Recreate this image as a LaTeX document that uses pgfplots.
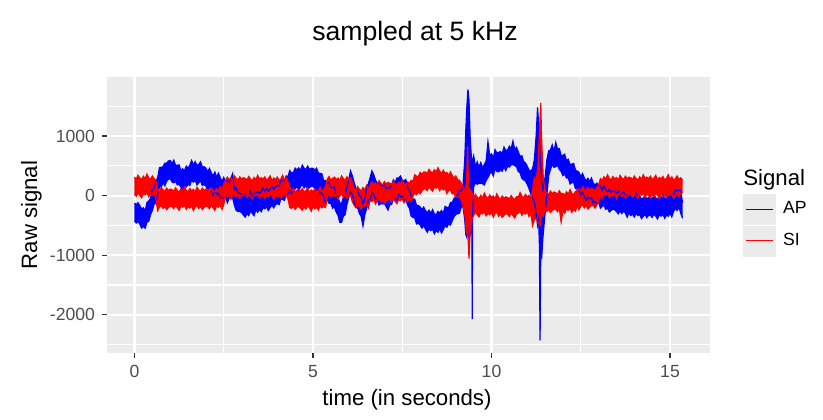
\documentclass[border=0pt]{standalone}
\usepackage{fontspec}
\setmainfont{Liberation Sans}
\usepackage{pgfplots}
\pgfplotsset{compat=1.18}
\usepackage{pgfplotstable}
\usepgfplotslibrary{fillbetween}

\definecolor{panel}{HTML}{EBEBEB}
\definecolor{ticktext}{HTML}{4D4D4D}
\definecolor{tickcol}{HTML}{333333}

% envelopes (min / max per time slice)
\pgfplotstableread{
t lo hi
0.00 -425 -125
0.05 -460 -150
0.10 -435 -120
0.15 -480 -170
0.20 -545 -220
0.25 -515 -205
0.30 -545 -255
0.35 -445 -115
0.40 -430 -90
0.45 -315 -45
0.50 -250 100
0.55 -140 130
0.60 -130 245
0.65 35 305
0.70 145 470
0.75 145 475
0.80 215 485
0.85 165 545
0.90 240 545
0.95 275 580
1.00 285 590
1.05 230 535
1.10 215 595
1.15 240 510
1.20 180 510
1.25 190 515
1.30 145 415
1.35 75 450
1.40 150 420
1.45 145 495
1.50 190 460
1.55 170 510
1.60 260 590
1.65 225 515
1.70 260 570
1.75 180 505
1.80 215 525
1.85 250 565
1.90 170 480
1.95 185 485
2.00 160 460
2.05 90 400
2.10 140 455
2.15 75 385
2.20 5 330
2.25 85 395
2.30 20 310
2.35 45 375
2.40 -35 305
2.45 -35 235
2.50 -45 305
2.55 -25 245
2.60 -120 255
2.65 -45 225
2.70 -30 295
2.75 -40 370
2.80 -165 105
2.85 -250 130
2.90 -265 40
2.95 -265 40
3.00 -285 20
3.05 -325 -20
3.10 -360 20
3.15 -300 -30
3.20 -335 -5
3.25 -255 70
3.30 -300 -30
3.35 -335 40
3.40 -235 35
3.45 -280 70
3.50 -230 40
3.55 -270 70
3.60 -200 130
3.65 -220 70
3.70 -190 120
3.75 -250 75
3.80 -200 110
3.85 -160 155
3.90 -205 105
3.95 -150 150
4.00 -135 165
4.05 -150 160
4.10 -55 260
4.15 -65 245
4.20 -80 245
4.25 20 330
4.30 30 320
4.35 90 420
4.40 40 380
4.45 115 385
4.50 110 460
4.55 160 430
4.60 90 465
4.65 150 420
4.70 185 510
4.75 130 460
4.80 165 435
4.85 115 495
4.90 135 440
4.95 155 460
5.00 155 460
5.05 120 425
5.10 80 460
5.15 110 380
5.20 45 375
5.25 40 365
5.30 -25 245
5.35 -120 255
5.40 -65 205
5.45 -130 220
5.50 -130 140
5.55 -210 130
5.60 -185 145
5.65 -275 15
5.70 -330 -20
5.75 -445 -120
5.80 -445 -135
5.85 -345 -30
5.90 -320 -10
5.95 -150 150
6.00 -35 265
6.05 60 415
6.10 20 335
6.15 -85 225
6.20 -200 125
6.25 -205 105
6.30 -300 -10
6.35 -350 -20
6.40 -510 -160
6.45 -320 -50
6.50 -220 130
6.55 -70 200
6.60 -75 300
6.65 50 415
6.70 25 350
6.75 -65 265
6.80 -65 205
6.85 -155 225
6.90 -135 170
6.95 -140 165
7.00 -130 175
7.05 -185 120
7.10 -240 140
7.15 -150 120
7.20 -150 180
7.25 -60 265
7.30 -50 220
7.35 -80 295
7.40 25 295
7.45 -20 330
7.50 -10 260
7.55 -90 250
7.60 -60 270
7.65 -160 130
7.70 -210 100
7.75 -345 -20
7.80 -365 -55
7.85 -375 -60
7.90 -475 -165
7.95 -465 -165
8.00 -490 -190
8.05 -545 -235
8.10 -505 -190
8.15 -560 -250
8.20 -615 -290
8.25 -555 -245
8.30 -585 -295
8.35 -565 -235
8.40 -640 -310
8.45 -585 -315
8.50 -615 -265
8.55 -560 -290
8.60 -625 -250
8.65 -570 -300
8.70 -505 -180
8.75 -530 -200
8.80 -470 -200
8.85 -495 -115
8.90 -420 -115
8.95 -355 -50
9.00 -315 -10
9.05 -305 0
9.10 -295 85
9.15 -195 75
9.20 -175 155
9.25 -400 600
9.28 -650 1100
9.31 -700 1500
9.34 -500 1780
9.37 -750 1600
9.40 -650 1000
9.43 -600 700
9.45 -500 500
9.46 -2070 400
9.47 -300 600
9.50 150 670
9.55 215 485
9.60 190 565
9.65 210 480
9.70 205 555
9.75 200 470
9.80 180 520
9.85 255 585
9.90 300 900
9.95 365 675
10.00 400 700
10.05 330 640
10.10 455 770
10.15 405 715
10.20 400 725
10.25 430 740
10.30 410 700
10.35 485 815
10.40 420 760
10.45 495 765
10.50 480 830
10.55 515 785
10.60 520 915
10.65 505 775
10.70 485 810
10.75 405 735
10.80 385 655
10.85 290 670
10.90 265 570
10.95 245 550
11.00 190 495
11.05 120 425
11.10 30 410
11.15 -50 450
11.20 -100 600
11.25 -300 1000
11.29 -500 1480
11.32 -400 1200
11.34 -800 900
11.36 -2430 700
11.38 -900 500
11.41 -1000 200
11.44 -700 100
11.47 -500 250
11.50 -300 300
11.55 0 600
11.60 330 750
11.65 435 765
11.70 525 850
11.75 475 745
11.80 485 890
11.85 510 780
11.90 440 790
11.95 405 675
12.00 335 675
12.05 365 695
12.10 295 585
12.15 300 610
12.20 195 520
12.25 220 530
12.30 225 540
12.35 120 430
12.40 110 410
12.45 90 390
12.50 10 320
12.55 55 370
12.60 -15 295
12.65 -75 250
12.70 -20 290
12.75 -55 235
12.80 -35 295
12.85 -130 210
12.90 -95 175
12.95 -140 210
13.00 -110 160
13.05 -210 165
13.10 -180 90
13.15 -165 160
13.20 -230 100
13.25 -210 60
13.30 -275 105
13.35 -250 55
13.40 -225 80
13.45 -235 70
13.50 -265 40
13.55 -305 75
13.60 -260 10
13.65 -300 30
13.70 -260 65
13.75 -290 -20
13.80 -360 15
13.85 -285 -15
13.90 -335 15
13.95 -310 -40
14.00 -360 -20
14.05 -295 35
14.10 -335 -45
14.15 -315 -5
14.20 -385 -60
14.25 -350 -40
14.30 -315 0
14.35 -370 -60
14.40 -330 -30
14.45 -330 -30
14.50 -365 -55
14.55 -310 5
14.60 -345 -35
14.65 -390 -65
14.70 -320 -10
14.75 -345 -55
14.80 -310 20
14.85 -380 -40
14.90 -330 -60
14.95 -345 5
15.00 -295 -25
15.05 -355 20
15.10 -265 5
15.15 -220 105
15.20 -250 80
15.25 -185 85
15.30 -295 85
15.35 -380 -120
}\apdata

\pgfplotstableread{
t lo hi
0.00 30 310
0.05 -10 280
0.10 45 340
0.15 5 295
0.20 -35 270
0.25 35 325
0.30 15 285
0.35 50 360
0.40 -20 300
0.45 25 275
0.50 0 330
0.55 40 290
0.60 -60 250
0.65 -250 105
0.70 -190 60
0.75 -165 140
0.80 -215 95
0.85 -180 70
0.90 -235 125
0.95 -200 85
1.00 -175 110
1.05 -180 100
1.10 -220 70
1.15 -165 130
1.20 -205 85
1.25 -245 60
1.30 -175 115
1.35 -195 75
1.40 -160 150
1.45 -230 90
1.50 -185 65
1.55 -210 120
1.60 -170 80
1.65 -250 105
1.70 -190 60
1.75 -165 140
1.80 -215 95
1.85 -180 70
1.90 -235 125
1.95 -200 85
2.00 -175 110
2.05 -180 100
2.10 -220 70
2.15 -165 130
2.20 -205 85
2.25 -245 60
2.30 -175 115
2.35 -195 75
2.40 -160 150
2.45 -230 90
2.50 -150 200
2.55 5 255
2.60 -20 310
2.65 20 270
2.70 -60 295
2.75 0 250
2.80 25 330
2.85 -25 285
2.90 10 260
2.95 -45 315
3.00 -10 275
3.05 15 300
3.10 10 290
3.15 -30 260
3.20 25 320
3.25 -15 275
3.30 -55 250
3.35 15 305
3.40 -5 265
3.45 30 340
3.50 -40 280
3.55 15 300
3.60 -10 275
3.65 -45 315
3.70 10 260
3.75 -25 285
3.80 25 330
3.85 0 250
3.90 -60 295
3.95 20 270
4.00 -20 310
4.05 5 255
4.10 -40 280
4.15 30 340
4.20 -5 265
4.25 15 305
4.30 -60 240
4.35 -200 150
4.40 -215 75
4.45 -175 120
4.50 -230 60
4.55 -190 90
4.60 -185 100
4.65 -210 75
4.70 -245 115
4.75 -190 60
4.80 -225 85
4.85 -175 130
4.90 -200 50
4.95 -260 95
5.00 -180 70
5.05 -220 110
5.10 -195 55
5.15 -240 80
5.20 -170 140
5.25 -205 65
5.30 -185 105
5.35 -200 150
5.40 -15 275
5.45 25 320
5.50 -30 260
5.55 10 290
5.60 -20 310
5.65 20 270
5.70 -60 295
5.75 0 250
5.80 25 330
5.85 -25 285
5.90 10 260
5.95 -45 315
6.00 -10 275
6.05 15 300
6.10 -100 220
6.15 -160 120
6.20 -200 90
6.25 -145 150
6.30 -185 105
6.35 -225 80
6.40 -155 135
6.45 -175 95
6.50 -140 170
6.55 -210 110
6.60 -75 175
6.65 -100 230
6.70 -60 190
6.75 -140 215
6.80 -80 170
6.85 -55 250
6.90 -105 205
6.95 -70 180
7.00 -125 235
7.05 -90 195
7.10 -65 220
7.15 -70 210
7.20 -110 180
7.25 -55 240
7.30 -95 195
7.35 -135 170
7.40 -65 225
7.45 -85 185
7.50 -50 260
7.55 -120 200
7.60 -75 175
7.65 -100 230
7.70 -40 210
7.75 -100 255
7.80 -10 240
7.85 45 350
7.90 15 325
7.95 70 320
8.00 30 390
8.05 75 360
8.10 110 395
8.15 115 395
8.20 85 375
8.25 145 440
8.30 110 400
8.35 75 380
8.40 145 435
8.45 125 395
8.50 158 468
8.55 85 405
8.60 125 375
8.65 95 425
8.70 125 375
8.75 35 390
8.80 85 335
8.85 95 400
8.90 30 340
8.95 45 295
9.00 -30 330
9.05 -20 265
9.10 -25 260
9.15 -70 210
9.20 -180 150
9.25 -300 80
9.30 -650 200
9.33 -300 830
9.35 -800 300
9.37 -1055 0
9.40 -600 100
9.45 -400 60
9.50 -330 -40
9.55 -275 20
9.60 -315 -25
9.65 -355 -50
9.70 -285 5
9.75 -305 -35
9.80 -270 40
9.85 -340 -20
9.90 -295 -45
9.95 -320 10
10.00 -280 -30
10.05 -360 -5
10.10 -300 -50
10.15 -275 30
10.20 -345 -35
10.25 -310 -60
10.30 -365 -5
10.35 -330 -45
10.40 -305 -20
10.45 -310 -30
10.50 -350 -60
10.55 -295 0
10.60 -335 -45
10.65 -375 -70
10.70 -305 -15
10.75 -295 -25
10.80 -260 50
10.85 -330 -10
10.90 -285 -35
10.95 -310 20
11.00 -270 -20
11.05 -350 5
11.10 -290 -40
11.15 -500 100
11.20 -400 300
11.25 -380 250
11.30 -450 500
11.36 -500 1300
11.38 -500 1555
11.40 -300 1000
11.45 -350 300
11.50 -215 90
11.55 -265 45
11.60 -230 20
11.65 -285 75
11.70 -250 35
11.75 -225 60
11.80 -230 50
11.85 -270 20
11.90 -215 80
11.95 -445 30
12.00 -255 35
12.05 -295 10
12.10 -225 65
12.15 -245 25
12.20 -210 100
12.25 -280 40
12.30 -235 15
12.35 -260 70
12.40 -160 90
12.45 -240 115
12.50 -180 70
12.55 -155 150
12.60 -205 105
12.65 -170 80
12.70 -225 135
12.75 -190 95
12.80 -165 120
12.85 -170 110
12.90 -210 80
12.95 -155 140
13.00 -100 180
13.05 -5 285
13.10 -45 260
13.15 25 315
13.20 5 275
13.25 40 350
13.30 -30 290
13.35 15 265
13.40 -10 320
13.45 30 280
13.50 -50 305
13.55 10 260
13.60 35 340
13.65 -15 295
13.70 20 270
13.75 -35 325
13.80 0 285
13.85 25 310
13.90 20 300
13.95 -20 270
14.00 35 330
14.05 -5 285
14.10 -45 260
14.15 25 315
14.20 5 275
14.25 40 350
14.30 -30 290
14.35 25 310
14.40 0 285
14.45 -35 325
14.50 20 270
14.55 -15 295
14.60 35 340
14.65 10 260
14.70 -50 305
14.75 30 280
14.80 -10 320
14.85 15 265
14.90 -30 290
14.95 40 350
15.00 5 275
15.05 25 315
15.10 -45 260
15.15 -5 285
15.20 35 330
15.25 -20 270
15.30 20 300
15.35 60 260
}\sidata

\begin{document}
\begin{tikzpicture}
\begin{axis}[
  name=ax,
  scale only axis,
  width=301.5pt, height=138pt,
  xmin=-0.77, xmax=16.12,
  ymin=-2640, ymax=1990,
  axis background/.style={fill=panel},
  axis line style={draw=none},
  tick pos=left, tick align=outside,
  major tick length=2.5pt, minor tick length=0pt,
  tick style={tickcol, line width=0.55pt},
  xtick={0,5,10,15}, xticklabels={0,5,10,15},
  ytick={-2000,-1000,0,1000}, yticklabels={-2000,-1000,0,1000},
  minor xtick={2.5,7.5,12.5},
  minor ytick={-2500,-1500,-500,500,1500},
  grid=both,
  major grid style={white, line width=1.1pt},
  minor grid style={white, line width=0.55pt},
  ticklabel style={font=\fontsize{8.8}{10}\selectfont, text=ticktext},
  legend style={at={(1.0547,0.5786)}, anchor=north west, draw=none, fill=none,
    inner sep=0pt, row sep=0.5pt, font=\fontsize{8.8}{10}\selectfont,
    nodes={inner xsep=3.5pt, inner ysep=0pt}, cells={anchor=west}},
]
\addplot[name path=aphi, blue, line width=0.6pt, forget plot] table[x=t, y=hi] {\apdata};
\addplot[name path=aplo, blue, line width=0.6pt, forget plot] table[x=t, y=lo] {\apdata};
\addplot[blue, forget plot] fill between[of=aphi and aplo];
\addplot[name path=sihi, red, line width=0.6pt, forget plot] table[x=t, y=hi] {\sidata};
\addplot[name path=silo, red, line width=0.6pt, forget plot] table[x=t, y=lo] {\sidata};
\addplot[red, forget plot] fill between[of=sihi and silo];
\addlegendimage{legend image code/.code={
    \fill[panel] (0pt,-7.5pt) rectangle (16pt,7.5pt);
    \draw[blue, line width=0.5pt] (1.2pt,0pt) -- (14.8pt,0pt);}}
\addlegendentry{AP}
\addlegendimage{legend image code/.code={
    \fill[panel] (0pt,-7.5pt) rectangle (16pt,7.5pt);
    \draw[red, line width=0.5pt] (1.2pt,0pt) -- (14.8pt,0pt);}}
\addlegendentry{SI}
\end{axis}
\node[anchor=base, font=\fontsize{13.3}{16}\selectfont] at (154pt,156.5pt) {sampled at 5 kHz};
\node[anchor=base, font=\fontsize{11.1}{13}\selectfont] at (150pt,-26pt) {time (in seconds)};
\node[anchor=base, rotate=90, font=\fontsize{11.1}{13}\selectfont] at (-35pt,69pt) {Raw signal};
\node[anchor=base west, inner sep=0pt, font=\fontsize{11.1}{13}\selectfont] at (318pt,84pt) {Signal};
\path (-53.5pt,-33pt) rectangle (358pt,176.5pt);
\end{tikzpicture}
\end{document}
